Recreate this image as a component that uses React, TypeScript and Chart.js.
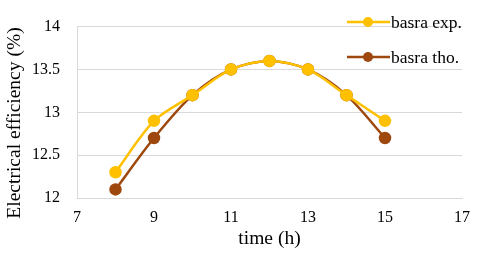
import React, { useEffect, useRef } from "react";
import { Chart, registerables } from "chart.js";

Chart.register(...registerables);

const hours = [8, 9, 10, 11, 12, 13, 14, 15];
const basraExp = [12.3, 12.9, 13.2, 13.5, 13.6, 13.5, 13.2, 12.9];
const basraTho = [12.1, 12.7, 13.2, 13.5, 13.6, 13.5, 13.2, 12.7];
const seriesNames = ["basra exp.", "basra tho."];
const xTitle = "time (h)";
const yTitle = "Electrical efficiency (%)";

const FONT = "'Liberation Serif', 'Times New Roman', serif";

const legendPlugin = {
  id: "customLegend",
  afterDraw(chart: any) {
    const ctx = chart.ctx;
    const items = chart.data.datasets;
    ctx.save();
    items.forEach((ds: any, i: number) => {
      const y = 22 + i * 35;
      ctx.strokeStyle = ds.borderColor;
      ctx.lineWidth = 2.5;
      ctx.beginPath();
      ctx.moveTo(347, y);
      ctx.lineTo(390, y);
      ctx.stroke();
      ctx.fillStyle = ds.backgroundColor;
      ctx.beginPath();
      ctx.arc(368, y, 5, 0, Math.PI * 2);
      ctx.fill();
      ctx.fillStyle = "#000";
      ctx.font = `17.5px ${FONT}`;
      ctx.textBaseline = "middle";
      ctx.textAlign = "left";
      ctx.fillText(ds.label, 391, y + 1);
    });
    // y axis title, centred a little lower than the plot centre as in the reference
    ctx.translate(15, 123);
    ctx.rotate(-Math.PI / 2);
    ctx.fillStyle = "#000";
    ctx.font = `19.5px ${FONT}`;
    ctx.textAlign = "center";
    ctx.textBaseline = "middle";
    ctx.fillText(yTitle, 0, 0);
    ctx.restore();
  },
};

export default function App() {
  const ref = useRef<HTMLCanvasElement>(null);
  useEffect(() => {
    const toPts = (arr: number[]) => hours.map((h, i) => ({ x: h, y: arr[i] }));
    const chart = new Chart(ref.current!, {
      type: "line",
      data: {
        datasets: [
          {
            label: seriesNames[0],
            data: toPts(basraExp),
            borderColor: "#FFC000",
            backgroundColor: "#FFC000",
            borderWidth: 2.5,
            pointRadius: 5,
            pointHoverRadius: 5,
            tension: 0.3,
          },
          {
            label: seriesNames[1],
            data: toPts(basraTho),
            borderColor: "#9E480E",
            backgroundColor: "#9E480E",
            borderWidth: 2.5,
            pointRadius: 5,
            pointHoverRadius: 5,
            tension: 0.3,
          },
        ],
      },
      options: {
        animation: false,
        responsive: false,
        maintainAspectRatio: false,
        layout: { padding: { top: 22, right: 18, left: 0, bottom: 0 } },
        plugins: { legend: { display: false }, tooltip: { enabled: false } },
        scales: {
          x: {
            type: "linear",
            min: 7,
            max: 17,
            ticks: { stepSize: 2, color: "#000", font: { family: FONT, size: 16 }, padding: 10 },
            grid: { display: false, drawTicks: false },
            border: { display: true, color: "#D9D9D9", width: 1 },
            title: { display: true, text: xTitle, color: "#000", font: { family: FONT, size: 19.5 }, padding: { top: 0, bottom: 3 } },
            afterFit(scale: any) {
              scale.height = 56;
            },
          },
          y: {
            min: 12,
            max: 14,
            ticks: {
              stepSize: 0.5,
              color: "#000",
              font: { family: FONT, size: 16 },
              padding: 17,
              callback: (v: any) => String(v),
            },
            grid: { color: "#D9D9D9", drawTicks: false },
            border: { display: true, color: "#D9D9D9", width: 1 },
            title: { display: false },
            afterFit(scale: any) {
              scale.width = 77;
            },
          },
        },
      },
      plugins: [legendPlugin],
    } as any);
    return () => chart.destroy();
  }, []);
  return (
    <div style={{ position: "fixed", left: 0, top: 0, width: 480, height: 254, background: "#fff" }}>
      <canvas ref={ref} width={480} height={254} />
    </div>
  );
}
